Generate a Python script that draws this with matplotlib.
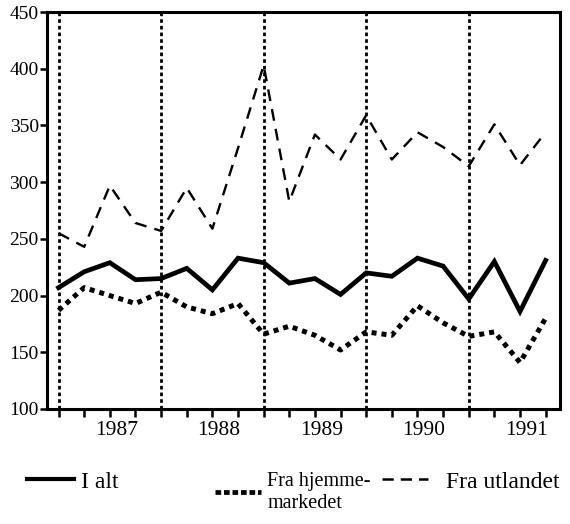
import matplotlib
matplotlib.use("Agg")
import matplotlib.pyplot as plt
from matplotlib.lines import Line2D

# Quarterly index values (20 quarters)
quarters = list(range(20))
i_alt = [207, 221, 229, 214, 215, 224, 205, 233, 229, 211,
         215, 201, 220, 217, 233, 226, 197, 230, 186, 231]
hjemme = [187, 207, 200, 193, 203, 190, 184, 193, 166, 173,
          165, 152, 168, 165, 191, 176, 164, 168, 141, 180]
utland = [255, 243, 297, 264, 257, 295, 259, 330, 403, 283,
          342, 320, 359, 320, 344, 331, 314, 351, 315, 344]
year_labels = ["1987", "1988", "1989", "1990", "1991"]
year_pos = [2.25, 6.25, 10.25, 14.25, 18.25]
breaks = [0, 4, 8, 12, 16]
yticks = [100, 150, 200, 250, 300, 350, 400, 450]

plt.rcParams['font.family'] = ['Liberation Serif', 'DejaVu Serif']

fig = plt.figure(figsize=(5.70, 5.24), dpi=100)
ax = fig.add_axes([0.0825, 0.2195, 0.8995, 0.7575])

for b in breaks:
    ax.axvline(b, color='black', lw=2.0, ls=(0, (1.3, 1.1)), zorder=1)

ax.plot(quarters, i_alt, color='black', lw=3.4, solid_joinstyle='miter', zorder=3)
ax.plot(quarters, hjemme, color='black', lw=3.6, ls=(0, (1.0, 1.0)), zorder=3)
ax.plot(quarters, utland, color='black', lw=1.7, ls=(0, (5, 3.5)), zorder=3)

ax.set_ylim(100, 450)
ax.set_xlim(-0.45, 19.55)
ax.set_yticks(yticks)
ax.set_xticks(quarters)
ax.set_xticklabels([])
ax.set_xticks(year_pos, minor=True)
ax.set_xticklabels(year_labels, minor=True)
ax.tick_params(axis='x', which='minor', length=0, pad=9, labelsize=15.5)
ax.tick_params(axis='x', which='major', direction='out', length=6, width=1.8)
ax.tick_params(axis='y', direction='out', length=5, width=1.8, labelsize=14, pad=1)
for s in ax.spines.values():
    s.set_linewidth(2.2)

kw = dict(frameon=False, loc='upper left', borderpad=0, borderaxespad=0)
fig.legend([Line2D([], [], color='black', lw=3.0)], ["I alt"],
           bbox_to_anchor=(0.047, 0.101), handlelength=2.0, handletextpad=0.3,
           fontsize=17, **kw)
fig.legend([Line2D([], [], color='black', lw=3.4, ls=(0, (1.2, 0.6)))], ["Fra hjemme-\nmarkedet"],
           bbox_to_anchor=(0.377, 0.099), handlelength=2.3, handletextpad=0.3,
           fontsize=14.5, **kw)
fig.legend([Line2D([], [], color='black', lw=1.8, ls=(0, (4.5, 2.8)))], ["Fra utlandet"],
           bbox_to_anchor=(0.67, 0.101), handlelength=1.95, handletextpad=0.75,
           fontsize=17, **kw)

fig.savefig("out.png", dpi=100)
